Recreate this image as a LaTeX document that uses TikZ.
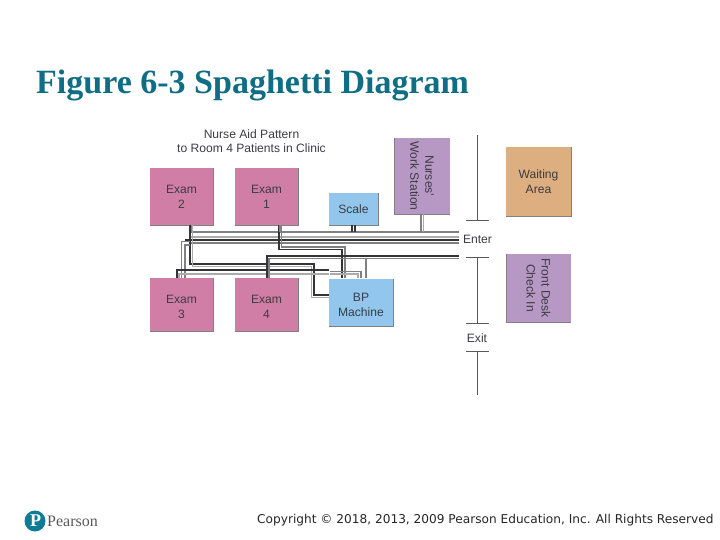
\documentclass[tikz,border=0pt]{standalone}
\usepackage{fontspec}
\setmainfont{Liberation Sans}
\newfontfamily\titlefont{Liberation Serif}
\newfontfamily\copyfont{DejaVu Sans}
\definecolor{pinkbox}{HTML}{D17EA7}
\definecolor{bluebox}{HTML}{92C6EC}
\definecolor{purplebox}{HTML}{B797C3}
\definecolor{tanbox}{HTML}{DDAE7F}
\definecolor{titleteal}{HTML}{0F6E86}
\definecolor{logoteal}{HTML}{0F7C96}
\definecolor{ink}{HTML}{3C3C42}
\definecolor{strandgray}{HTML}{808080}
\definecolor{strandlight}{HTML}{ABABAB}
\definecolor{stranddark}{HTML}{333338}
\newcommand{\lowtxt}[1]{\smash{\raisebox{-6pt}{#1}}}
\tikzset{
  roombox/.style={inner sep=0pt,outer sep=0pt,align=center,text=ink,font=\fontsize{12.1}{15}\selectfont,fill=#1},
  lbl/.style={inner sep=0pt,outer sep=0pt,align=center,text=ink,font=\fontsize{12.1}{14}\selectfont},
  wall/.style={draw=black!65,line width=1pt},
  edgeline/.style={draw=black!50,line width=.9pt},
  gs/.style={draw=strandgray,line width=1.3pt},
  ls/.style={draw=strandlight,line width=1.3pt},
  ks/.style={draw=stranddark,line width=1.3pt},
}
\begin{document}
\begin{tikzpicture}[x=1pt,y=-1pt]
\useasboundingbox[fill=white] (0,0) rectangle (720,540);
\node[anchor=base west,inner sep=0pt,text=titleteal,font=\titlefont\bfseries\fontsize{34}{38}\selectfont] (title) at (36,94) {Figure 6-3 Spaghetti Diagram};
\node[lbl] (caption) at (251.5,141.5) {Nurse Aid Pattern\\to Room 4 Patients in Clinic};
% room nodes
\node[roombox=pinkbox,minimum width=63pt,minimum height=57pt] (e2) at (181.5,196.5) {Exam\\2};
\node[roombox=pinkbox,minimum width=63pt,minimum height=57pt] (e1) at (266.5,196.5) {Exam\\1};
\node[roombox=bluebox,minimum width=49pt,minimum height=32pt] (scale) at (353.5,209) {Scale};
\node[roombox=purplebox,rotate=-90,minimum width=76pt,minimum height=56pt] (nws) at (422,176) {Nurses'\\Work Station};
\node[roombox=tanbox,minimum width=65pt,minimum height=69pt] (wait) at (538.5,181.5) {Waiting\\Area};
\node[roombox=purplebox,rotate=-90,minimum width=68pt,minimum height=65pt] (desk) at (538.5,288) {Front Desk\\Check In};
\node[roombox=pinkbox,minimum width=63pt,minimum height=53pt] (e3) at (181.5,304.5) {\lowtxt{Exam}\\\lowtxt{3}};
\node[roombox=pinkbox,minimum width=63pt,minimum height=53pt] (e4) at (266.5,304.5) {\lowtxt{Exam}\\\lowtxt{4}};
\node[roombox=bluebox,minimum width=64pt,minimum height=47pt] (bp) at (361,302.5) {\lowtxt{BP}\\\lowtxt{Machine}};
% shaded lower and right edges of the rooms
\foreach \n in {e2,e1,scale,wait,e3,e4,bp}
  \draw[edgeline] (\n.south west) -- (\n.south east) -- (\n.north east);
\foreach \n in {nws,desk}
  \draw[edgeline] (\n.north east) -- (\n.south east) -- (\n.south west);
% free ends of the corridor lines
\coordinate (c1) at (459,232);
\coordinate (c2) at (459,237);
\coordinate (c3) at (459,240);
\coordinate (c4) at (459,243);
\coordinate (c5) at (459,256);
\coordinate (c6) at (459,258.5);
% corridor lines
\draw[gs] ([xshift=10pt]e2.south) |- (c1);
\draw[ls] (191,237) -- (c2);
\draw[ks] (185,240) -- (c3);
\draw[gs] (191,243) -- (c4);
% Exam 2 to machine
\draw[ks] ([xshift=8.5pt]e2.south) -- (190,264) -- (314,264) -- (314,295) -- (bp.west |- 0,295);
\draw[ls] ([xshift=11pt]e2.south) -- (192.5,266.5) -- (311.5,266.5) -- (311.5,297.5) -- (bp.west |- 0,297.5);
% Exam 3 strands
\draw[gs] ([xshift=0pt]e3.north) -- (181.5,241.5) -- (190,241.5);
\draw[gs] ([xshift=3.5pt]e3.north) -- (185,245) -- (190,245);
\draw[ks] ([xshift=-4.5pt]e3.north) -- (177,270) -- (329,270);
\draw[ls] ([xshift=-2.5pt]e3.north) -- (179,274) -- (329,274);
% Exam 1 to machine
\draw[ks] ([xshift=12.5pt]e1.south) -- (279,249.5) -- (342,249.5) -- (342,278);
\draw[gs] ([xshift=15pt]e1.south) -- (281.5,247) -- (345,247) -- (345,278);
% Exam 4 to corridor and machine
\draw[ks] ([xshift=.5pt]e4.north) -- (267,256) -- (c5);
\draw[gs] ([xshift=2.5pt]e4.north) -- (269,258.5) -- (c6);
\draw[gs] (330,271.5) -- (361,271.5) -- (361,278);
\draw[ls] (330,274) -- (358,274) -- (358,278);
\draw[gs] (366,258.5) -- (366,278);
% Scale and Nurses' Work Station stubs
\draw[ks] ([xshift=-1.5pt]scale.south) -- ++(0,7);
\draw[ks] ([xshift=1.5pt]scale.south) -- ++(0,7);
\draw[gs] (nws.east) ++(-1,0) -- ++(0,18);
\draw[ls] (nws.east) ++(1.5,0) -- ++(0,18);
\draw[gs] ([xshift=13.5pt]e1.south) -- ++(0,7);
% Walls
\coordinate (w0) at (477,135);
\coordinate (w1) at (477,221);
\coordinate (w2) at (477,257);
\coordinate (w3) at (477,323);
\coordinate (w4) at (477,351);
\coordinate (w5) at (477,395);
\draw[wall] (w0) -- (w1);
\draw[wall] (w2) -- (w3);
\draw[wall] (w4) -- (w5);
\draw[wall] ([xshift=-11pt]w1) -- ([xshift=12pt]w1);
\draw[wall] ([xshift=-11pt]w2) -- ([xshift=12pt]w2);
\draw[wall] ([xshift=-11pt]w3) -- ([xshift=12pt]w3);
\draw[wall] ([xshift=-11pt]w4) -- ([xshift=12pt]w4);
\node[lbl] (enter) at (477.5,239) {Enter};
\node[lbl] (exit) at (477,338) {Exit};
% Footer
\node[circle,fill=logoteal,minimum size=21pt,inner sep=0pt] (logo) at (35,521) {};
\node[text=white,inner sep=0pt,font=\titlefont\bfseries\fontsize{18}{18}\selectfont] (logop) at (35.5,521) {P};
\node[anchor=west,inner sep=0pt,text=black!65,font=\titlefont\fontsize{16}{18}\selectfont] (pearson) at (47,521) {Pearson};
\node[anchor=base west,inner sep=0pt,text=black!85,font=\copyfont\fontsize{12.15}{14}\selectfont] (copy) at (257,523) {Copyright © 2018, 2013, 2009 Pearson Education, Inc. All Rights Reserved};
\end{tikzpicture}
\end{document}
